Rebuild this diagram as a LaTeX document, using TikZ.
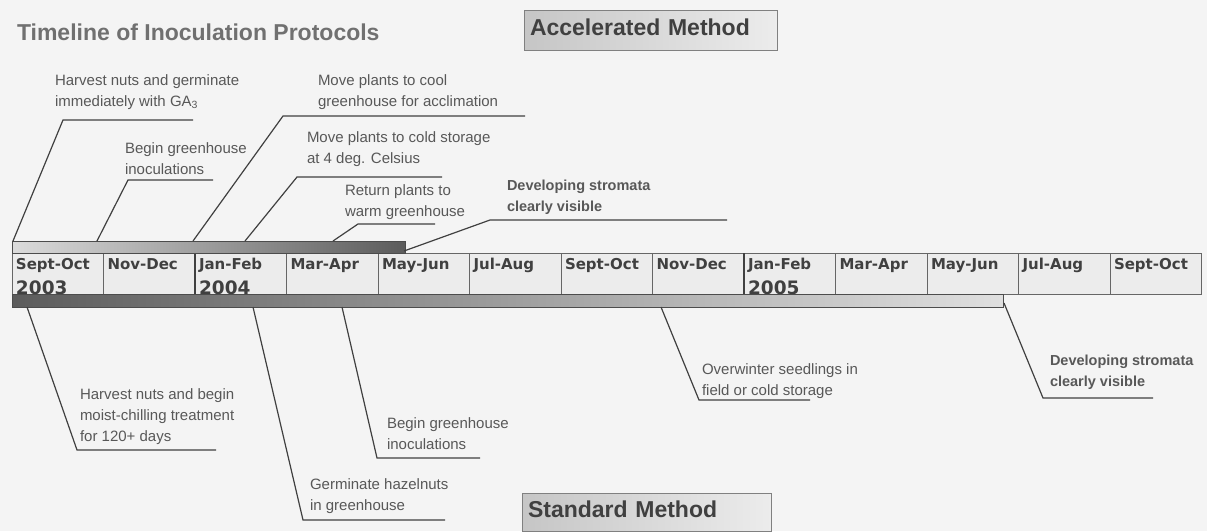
\documentclass[tikz,border=0pt]{standalone}
\usepackage{fontspec}
\setmainfont{Liberation Sans}
\newfontfamily\cellfont{DejaVu Sans}
\usetikzlibrary{positioning,calc}
\definecolor{inkgray}{RGB}{64,64,64}
\definecolor{notegray}{RGB}{88,88,88}
\definecolor{titlegray}{RGB}{112,112,112}
\definecolor{paper}{RGB}{244,244,244}
\definecolor{cellfill}{RGB}{236,236,236}

\begin{document}
\begin{tikzpicture}[x=1pt, y=-1pt,
  every node/.style={inner sep=0pt, outer sep=0pt},
  note/.style={anchor=base west, align=left, text=notegray,
               font=\fontsize{15}{21}\selectfont},
  boldnote/.style={note, font=\bfseries\fontsize{14.5}{21}\selectfont},
  leader/.style={draw=inkgray, line width=1.2pt},
  cell/.style={draw=gray!80!black, fill=cellfill, line width=0.8pt, anchor=north west,
               minimum width=91.5pt, minimum height=41pt},
  monthlbl/.style={anchor=base west, text=inkgray, font=\cellfont\bfseries\fontsize{15}{15}\selectfont},
  yearlbl/.style={anchor=base west, text=inkgray, font=\cellfont\bfseries\fontsize{18.5}{18.5}\selectfont},
  methodbox/.style={draw=gray, line width=1pt, left color=gray!45, right color=gray!15,
                    anchor=north west, text=inkgray, align=left, inner xsep=6pt, text depth=5pt,
                    font=\bfseries\fontsize{23}{23}\selectfont},
]
\fill[paper] (0,0) rectangle (1207,531);
\useasboundingbox (0,0) rectangle (1207,531);

% Title and method boxes
\node[anchor=base west, text=titlegray, font=\bfseries\fontsize{23}{23}\selectfont] (title) at (17,40) {Timeline of Inoculation Protocols};
\node[methodbox, minimum width=253pt, minimum height=40pt, text width=241pt] (accel) at (524,10) {Accelerated Method};
\node[methodbox, minimum width=249pt, minimum height=38pt, text width=237pt] (stand) at (522,493) {Standard Method};

% Month cells
\foreach \m [count=\i from 0] in {Sept-Oct,Nov-Dec,Jan-Feb,Mar-Apr,May-Jun,Jul-Aug,Sept-Oct,Nov-Dec,Jan-Feb,Mar-Apr,May-Jun,Jul-Aug,Sept-Oct} {
  \node[cell] (c\i) at ({12+\i*91.5},253) {};
  \node[monthlbl] (m\i) at ({16+\i*91.5},269) {\m};
}
\draw[draw=inkgray, line width=2pt] (c2.north west) -- (c2.south west);
\draw[draw=inkgray, line width=2pt] (c8.north west) -- (c8.south west);

% Years
\node[yearlbl] (y2003) at (16,294) {2003};
\node[yearlbl] (y2004) at (199,294) {2004};
\node[yearlbl] (y2005) at (748,294) {2005};

% Bars
\node[anchor=north west, minimum width=393pt, minimum height=12pt, draw=gray!60!black,
      left color=gray!28, right color=gray!72!black] (accbar) at (12,241) {};
\node[anchor=north west, minimum width=991pt, minimum height=13pt, draw=gray!60!black,
      left color=gray!72!black, right color=gray!25] (stdbar) at (12,294) {};

% Accelerated notes (placed at the baseline of the last line)
\node[note] (a1) at (55,106) {Harvest nuts and germinate\\immediately with GA\textsubscript{3}};
\node[note] (a2) at (125,174) {Begin greenhouse\\inoculations};
\node[note] (a3) at (318,106) {Move plants to cool\\greenhouse for acclimation};
\node[note] (a4) at (307,163) {Move plants to cold storage\\at 4 deg. Celsius};
\node[note] (a5) at (345,216) {Return plants to\\warm greenhouse};
\node[boldnote] (a6) at (507,211) {Developing stromata\\clearly visible};

\coordinate (a1t) at (13,241);  \coordinate (a1k) at (63,120);  \coordinate (a1e) at (193,120);
\coordinate (a2t) at (97,241);  \coordinate (a2k) at (128,180); \coordinate (a2e) at (213,180);
\coordinate (a3t) at (193,241); \coordinate (a3k) at (283,116); \coordinate (a3e) at (525,116);
\coordinate (a4t) at (245,241); \coordinate (a4k) at (297,177); \coordinate (a4e) at (442,177);
\coordinate (a5t) at (333,241); \coordinate (a5k) at (358,224); \coordinate (a5e) at (435,224);
\coordinate (a6t) at (404,251); \coordinate (a6k) at (490,220); \coordinate (a6e) at (727,220);
\foreach \n in {1,...,6}
  \draw[leader] (a\n t) -- (a\n k) -- (a\n e);

% Standard notes
\node[note] (s1) at (80,441) {Harvest nuts and begin\\moist-chilling treatment\\for 120+ days};
\node[note] (s2) at (310,510) {Germinate hazelnuts\\in greenhouse};
\node[note] (s3) at (387,449) {Begin greenhouse\\inoculations};
\node[note] (s4) at (702,395) {Overwinter seedlings in\\field or cold storage};
\node[boldnote] (s5) at (1050,386) {Developing stromata\\clearly visible};

\coordinate (s1t) at (27,307);   \coordinate (s1k) at (77,450);   \coordinate (s1e) at (216,450);
\coordinate (s2t) at (253,307);  \coordinate (s2k) at (303,520);  \coordinate (s2e) at (445,520);
\coordinate (s3t) at (342,307);  \coordinate (s3k) at (377,458);  \coordinate (s3e) at (480,458);
\coordinate (s4t) at (661,307);  \coordinate (s4k) at (699,400);  \coordinate (s4e) at (810,400);
\coordinate (s5t) at (1004,303); \coordinate (s5k) at (1043,398); \coordinate (s5e) at (1153,398);
\foreach \n in {1,...,5}
  \draw[leader] (s\n t) -- (s\n k) -- (s\n e);

\end{tikzpicture}
\end{document}
